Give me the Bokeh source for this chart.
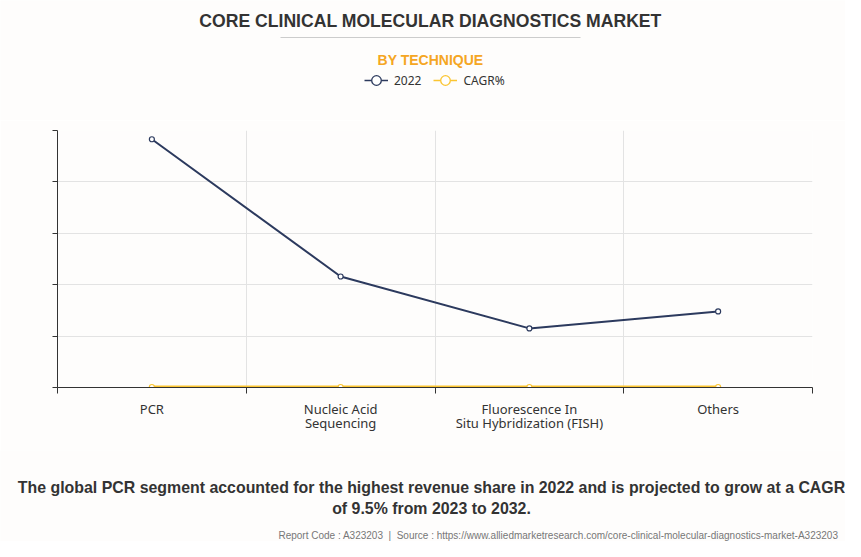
from bokeh.plotting import figure
from bokeh.layouts import column
from bokeh.models import FixedTicker, Legend, LegendItem, Range1d, Label, BoxAnnotation
from bokeh.embed import file_html
from bokeh.resources import INLINE

# ---- data ----
categories = ["PCR", "Nucleic Acid\nSequencing", "Fluorescence In\nSitu Hybridization (FISH)", "Others"]
revenue_2022 = [4830, 2160, 1150, 1480]
cagr = [9.5, 9.5, 9.5, 9.5]
y_ticks = [0, 1000, 2000, 3000, 4000, 5000]

title = "CORE CLINICAL MOLECULAR DIAGNOSTICS MARKET"
subtitle = "BY TECHNIQUE"
note1 = "The global PCR segment accounted for the highest revenue share in 2022 and is projected to grow at a CAGR"
note2 = "of 9.5% from 2023 to 2032."
source = "Report Code : A323203\u00a0 | \u00a0Source : https://www.alliedmarketresearch.com/core-clinical-molecular-diagnostics-market-A323203"

W = 845
BG = "#fefdfc"
navy = "#2c3a5e"
yellow = "#fbc531"
HEAD_H, MAIN_H, FOOT_H = 120, 330, 91
NAN = float("nan")


def blank(h):
    f = figure(width=W, height=h, output_backend="svg", toolbar_location=None,
               x_range=Range1d(0, W), y_range=Range1d(h, 0),
               x_axis_type=None, y_axis_type=None, min_border=0)
    f.grid.visible = False
    f.outline_line_color = None
    f.background_fill_color = BG
    f.border_fill_color = BG
    f.frame_align = False
    return f


def lab(f, text, x, y, size, color, bold=False, align="center"):
    f.add_layout(Label(text=text, x=x, y=y, text_font="Liberation Sans", text_font_size=size,
                       text_color=color, text_font_style="bold" if bold else "normal",
                       text_align=align, text_baseline="middle"))


# ---- header ----
head = blank(HEAD_H)
lab(head, title, 430, 20, "17.6px", "#333333", bold=True)
head.add_layout(BoxAnnotation(left=280, right=580, top=36.5, bottom=37.5, fill_color="#cccccc",
                              fill_alpha=1, line_color=None))
lab(head, subtitle, 430, 59, "14px", "#f5a623", bold=True)
# legend-only renderers (a single NaN point, so nothing is drawn in the header itself)
h1 = head.line([NAN], [NAN], line_color=navy, line_width=1.5)
h1m = head.scatter([NAN], [NAN], marker="circle", size=10, fill_color="white", line_color=navy, line_width=1.3)
h2 = head.line([NAN], [NAN], line_color=yellow, line_width=1.5)
h2m = head.scatter([NAN], [NAN], marker="circle", size=10, fill_color="white", line_color=yellow, line_width=1.3)
legend = Legend(items=[LegendItem(label="2022", renderers=[h1, h1m]),
                       LegendItem(label="CAGR%", renderers=[h2, h2m])],
                orientation="horizontal", location=(364, 28),
                label_text_font="Noto Sans", label_text_font_size="12px", label_text_color="#333333",
                glyph_width=24, glyph_height=24, label_height=24, spacing=12, padding=0, margin=0,
                label_standoff=6, border_line_color=None, background_fill_alpha=0)
head.add_layout(legend, "center")

# ---- main chart ----
p = figure(width=W, height=MAIN_H, output_backend="svg", toolbar_location=None,
           x_range=Range1d(0, len(categories)), y_range=Range1d(0, 5000),
           min_border_left=57, min_border_right=33, min_border_top=10, min_border_bottom=63)
p.outline_line_color = None
p.background_fill_color = BG
p.border_fill_color = BG
p.frame_align = False

xs = [i + 0.5 for i in range(len(categories))]
p.line(xs, revenue_2022, line_color=navy, line_width=2)
p.scatter(xs, revenue_2022, marker="circle", size=5, fill_color="white", line_color=navy, line_width=1.2)
p.line(xs, cagr, line_color=yellow, line_width=3)
p.scatter(xs, cagr, marker="circle", size=5, fill_color="white", line_color=yellow, line_width=1.2)

xa = p.xaxis[0]
xa.ticker = FixedTicker(ticks=xs, minor_ticks=list(range(len(categories) + 1)))
xa.major_label_overrides = {x: c for x, c in zip(xs, categories)}
xa.major_tick_line_color = None
xa.minor_tick_in = 0
xa.minor_tick_out = 6
xa.minor_tick_line_color = "#333333"
xa.axis_line_color = "#333333"
xa.major_label_text_font = "Noto Sans"
xa.major_label_text_font_size = "13px"
xa.major_label_text_line_height = 0.8
xa.major_label_text_color = "#333333"
xa.major_label_standoff = 6
p.xgrid.grid_line_color = None
p.xgrid.minor_grid_line_color = "#e3e3e3"

ya = p.yaxis[0]
ya.ticker = FixedTicker(ticks=y_ticks)
ya.major_label_text_font_size = "0px"
ya.major_label_text_alpha = 0
ya.major_label_standoff = 0
ya.major_tick_in = 0
ya.major_tick_out = 5
ya.minor_tick_line_color = None
ya.axis_line_color = "#333333"
ya.major_tick_line_color = "#333333"
p.ygrid.grid_line_color = "#e3e3e3"

# ---- footer ----
foot = blank(FOOT_H)
lab(foot, note1, 431, 37, "15.9px", "#333333", bold=True)
lab(foot, note2, 431, 58, "15.9px", "#333333", bold=True)
lab(foot, source, 838, 85, "10px", "#777777", align="right")

layout = column(head, p, foot, spacing=0)
open("out.html", "w").write(file_html(layout, INLINE))
